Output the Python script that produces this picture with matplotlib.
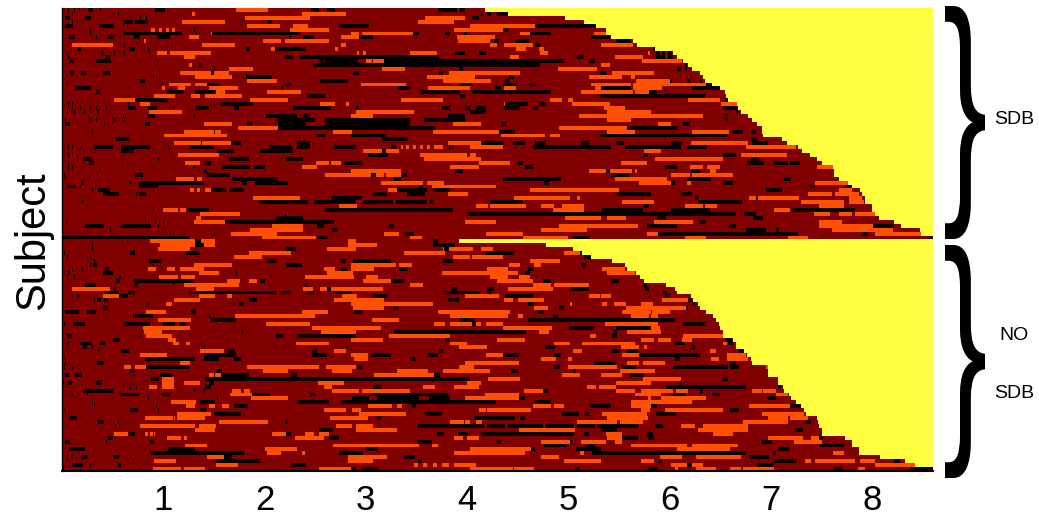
import matplotlib
matplotlib.use('Agg')
import matplotlib.pyplot as plt
import numpy as np
from matplotlib.colors import ListedColormap
from matplotlib.patches import PathPatch
from matplotlib.textpath import TextPath
from matplotlib.font_manager import FontProperties
from matplotlib.transforms import Affine2D

plt.rcParams['font.family'] = ['Liberation Sans', 'DejaVu Sans']

# recording length of each subject, hours (top = SDB, bottom = NO SDB)
row_end = [
    4.18, 4.40, 4.97, 5.15, 5.28, 5.37, 5.37, 5.42, 5.64, 5.68,
    5.86, 6.04, 6.08, 6.14, 6.19, 6.22, 6.30, 6.34, 6.35, 6.42,
    6.50, 6.55, 6.56, 6.58, 6.67, 6.68, 6.70, 6.78, 6.81, 6.87,
    6.91, 6.91, 6.92, 7.11, 7.16, 7.27, 7.31, 7.39, 7.45, 7.51,
    7.61, 7.63, 7.63, 7.68, 7.76, 7.80, 7.88, 7.90, 7.94, 7.94,
    8.00, 8.00, 8.03, 8.07, 8.22, 8.29, 8.48, 8.49, 8.62,
    3.92, 4.79, 5.05, 5.14, 5.23, 5.44, 5.56, 5.59, 5.67, 5.71,
    5.75, 5.97, 6.05, 6.08, 6.21, 6.24, 6.28, 6.30, 6.36, 6.43,
    6.46, 6.49, 6.50, 6.53, 6.53, 6.63, 6.65, 6.65, 6.74, 6.77,
    6.80, 6.81, 6.97, 6.97, 6.97, 7.07, 7.07, 7.12, 7.14, 7.18,
    7.20, 7.25, 7.30, 7.33, 7.35, 7.45, 7.47, 7.48, 7.50, 7.50,
    7.74, 7.80, 7.80, 7.87, 7.87, 8.08, 8.33, 8.43, 8.61,
]

# orange stretches per subject, (start, stop) in hours
orange = [
    [(1.72, 2.04)],
    [(1.29, 1.32), (2.37, 2.80)],
    [(1.81, 2.45), (3.59, 3.98)],
    [(1.19, 1.61), (3.52, 3.87)],
    [(1.83, 2.15), (2.29, 2.43), (4.04, 4.68)],
    [(0.89, 0.92), (0.96, 0.99), (1.03, 1.06), (1.09, 1.12), (2.25, 2.64), (3.87, 4.35)],
    [(1.47, 1.49), (2.86, 2.94), (2.97, 3.47), (4.53, 4.62), (5.25, 5.37)],
    [(1.25, 1.35), (2.75, 2.94), (3.90, 4.28)],
    [(0.81, 0.83), (1.99, 2.17), (2.20, 2.64), (3.91, 4.23)],
    [(0.10, 0.51), (1.39, 1.71), (2.76, 2.80), (4.23, 4.30), (4.37, 4.65), (5.33, 5.64)],
    [(2.07, 2.10), (2.70, 2.73), (4.49, 4.59), (4.71, 4.76)],
    [(0.94, 1.04), (1.07, 1.48), (2.92, 2.94), (2.98, 3.00), (3.44, 3.70), (4.72, 4.80), (5.79, 5.81)],
    [(1.21, 1.32), (4.43, 4.52), (5.46, 5.74), (5.72, 5.74)],
    [(3.00, 3.06), (3.08, 3.18), (5.73, 6.13)],
    [(1.25, 1.29), (5.33, 5.41)],
    [(1.65, 1.89), (3.16, 3.39), (4.90, 5.29)],
    [(1.17, 1.47), (1.50, 1.65), (3.83, 4.53), (5.44, 5.85)],
    [(1.32, 1.68), (3.60, 4.08), (5.21, 5.54), (5.62, 5.66)],
    [(1.83, 2.13), (3.77, 4.24), (5.67, 6.00)],
    [(1.06, 1.28), (1.32, 1.44), (2.95, 3.40), (5.23, 5.62), (5.64, 6.36)],
    [(0.99, 1.02), (1.15, 1.22), (1.45, 1.74), (3.62, 4.03), (4.37, 4.49), (5.27, 5.33), (5.64, 5.93)],
    [(1.52, 1.61), (2.03, 2.36), (5.13, 5.64), (5.66, 5.85)],
    [(0.91, 1.12), (1.28, 1.36), (1.41, 1.78)],
    [(0.52, 0.73), (1.86, 2.24), (3.35, 3.76), (4.82, 4.94), (5.00, 5.05), (6.19, 6.50)],
    [(0.77, 0.87), (2.55, 2.70), (2.81, 2.84), (4.37, 4.38), (5.04, 5.41), (6.51, 6.67)],
    [(5.35, 5.56)],
    [(0.86, 1.19), (2.90, 3.48), (5.39, 5.82)],
    [(2.86, 3.07), (5.11, 6.34)],
    [(5.39, 5.62)],
    [(1.40, 1.68), (3.86, 4.14), (5.89, 6.01)],
    [(1.74, 2.14), (4.91, 5.59)],
    [(1.20, 1.57), (2.68, 2.87), (3.66, 4.32), (5.39, 5.66), (6.23, 6.59)],
    [(1.01, 1.63), (4.34, 4.77), (4.82, 4.92)],
    [],
    [(1.11, 1.67), (3.81, 4.14), (6.21, 6.78)],
    [(3.35, 3.37), (3.40, 3.43), (3.47, 3.50), (3.54, 3.57), (3.61, 3.64), (3.68, 3.76), (4.03, 4.35), (6.76, 7.25)],
    [(2.98, 3.33), (5.75, 5.92)],
    [(1.15, 1.55), (3.54, 4.00), (4.04, 4.10), (6.71, 7.16)],
    [(3.58, 4.14), (5.86, 6.53)],
    [(1.22, 1.37), (2.51, 2.64), (2.66, 2.75), (4.12, 4.43), (5.52, 5.78)],
    [(2.37, 2.52), (3.84, 4.12), (6.20, 6.33), (6.37, 6.50), (7.46, 7.61)],
    [(2.85, 3.35), (5.21, 5.63), (5.66, 5.68), (6.40, 6.46)],
    [(2.60, 2.90), (2.85, 3.18), (3.20, 3.35), (6.01, 6.20), (6.23, 6.63)],
    [(1.13, 1.30), (1.34, 1.39), (5.46, 5.98)],
    [(3.15, 3.57), (3.60, 3.78), (5.70, 6.02), (6.17, 6.21), (7.44, 7.76)],
    [(3.65, 4.29)],
    [(1.27, 1.30), (1.34, 1.37), (1.41, 1.47), (3.22, 3.31), (4.63, 5.50), (7.68, 7.80)],
    [(3.81, 4.01), (7.37, 7.60), (7.64, 7.87)],
    [(1.89, 2.35), (4.47, 5.02), (5.09, 5.12), (6.79, 7.28), (7.77, 7.90)],
    [(5.53, 5.85), (7.30, 7.73), (7.77, 7.92)],
    [(2.74, 2.90), (2.85, 2.91), (4.10, 4.21), (4.23, 4.59), (4.74, 4.86), (4.94, 5.16), (6.15, 6.33), (6.35, 6.47), (7.48, 7.73)],
    [(1.00, 1.15), (1.17, 1.23), (4.85, 5.16), (7.04, 7.19)],
    [(1.36, 1.76), (7.43, 7.59), (7.68, 7.80), (7.83, 8.05)],
    [(1.33, 1.38), (4.97, 5.33), (5.39, 5.57)],
    [(1.30, 1.61), (3.99, 4.29), (5.85, 6.24), (7.48, 7.70)],
    [(2.08, 2.39), (4.91, 5.69), (7.48, 8.01)],
    [(1.86, 2.39), (4.74, 5.19), (7.60, 8.21)],
    [(1.67, 2.13), (3.19, 3.33), (4.19, 4.55), (5.78, 5.89), (8.03, 8.49)],
    [(1.98, 2.51), (3.44, 3.56), (4.55, 5.00), (6.15, 6.36), (7.17, 7.37)],
    [(0.87, 1.51), (2.83, 2.90)],
    [(0.97, 1.51), (2.83, 3.11)],
    [(0.95, 1.27), (2.62, 2.90), (3.77, 4.06), (4.14, 4.26)],
    [(1.85, 2.26), (3.38, 3.79), (4.96, 5.14)],
    [(1.70, 1.98), (3.86, 4.04), (4.05, 4.35)],
    [(4.62, 4.92)],
    [(1.30, 1.68), (2.85, 3.30), (3.33, 3.46), (4.42, 4.53), (4.66, 4.74)],
    [(0.85, 0.93), (1.04, 1.12), (1.17, 1.40), (2.59, 2.70), (2.85, 3.09), (4.20, 4.40), (5.34, 5.56)],
    [(1.35, 1.55), (2.62, 2.88), (3.75, 4.50), (5.39, 5.66)],
    [(0.96, 1.15), (1.18, 1.32), (2.40, 2.89), (3.00, 3.13), (4.23, 4.40), (4.52, 4.63)],
    [(1.64, 1.76), (1.85, 1.93), (2.98, 3.25), (4.30, 4.65)],
    [(1.20, 1.75), (3.44, 3.57), (4.65, 4.83), (4.86, 5.21)],
    [(0.10, 0.48), (1.33, 1.50), (2.39, 2.48), (2.55, 2.90), (2.85, 3.17), (4.40, 4.85)],
    [],
    [(0.41, 0.56), (1.35, 1.51), (1.64, 1.69), (2.77, 2.92), (3.99, 4.32), (5.20, 5.31), (5.33, 5.42)],
    [(1.11, 1.36), (2.69, 3.18), (4.37, 4.45), (4.50, 4.76), (5.93, 6.19)],
    [(1.03, 1.09), (2.85, 3.66), (5.02, 5.04), (5.34, 5.39), (5.45, 5.57), (5.72, 5.84)],
    [(2.88, 3.18), (4.66, 4.80), (5.57, 6.16)],
    [(0.84, 1.03), (2.37, 2.63), (3.72, 4.43), (5.53, 5.82), (5.72, 5.81), (5.83, 6.00)],
    [(1.71, 2.50), (3.84, 4.40), (4.50, 4.55), (5.62, 5.80), (5.82, 5.89)],
    [(0.95, 1.28), (3.06, 3.33)],
    [(2.02, 2.45), (3.68, 3.79), (3.84, 4.14), (4.19, 4.36), (5.36, 5.89)],
    [(0.80, 1.27), (2.47, 3.15), (4.35, 4.84), (5.82, 5.90)],
    [(0.81, 0.99), (2.56, 2.90), (4.71, 4.81), (5.58, 5.92)],
    [(0.84, 1.09), (3.24, 3.84), (5.22, 5.28), (6.14, 6.53)],
    [(1.05, 1.13), (2.85, 3.17), (4.30, 4.58), (5.72, 5.85), (5.89, 6.02), (6.13, 6.23)],
    [(1.10, 1.16), (1.23, 1.27), (2.31, 2.64), (3.84, 4.00), (4.86, 5.02), (5.14, 5.66), (6.53, 6.57)],
    [(3.92, 4.20), (5.52, 5.70), (5.75, 5.78)],
    [(1.36, 1.60), (2.69, 2.80), (5.05, 5.14), (6.40, 6.46)],
    [(0.78, 1.04), (2.85, 3.02), (4.19, 4.35), (5.54, 5.70), (6.57, 6.76)],
    [(2.89, 3.02), (4.73, 4.88), (5.00, 5.04), (6.41, 6.49), (6.57, 6.78)],
    [(1.17, 1.27), (3.99, 4.52), (5.59, 5.70), (5.74, 5.96)],
    [(0.62, 0.69), (0.73, 0.83), (1.83, 2.54), (2.61, 2.90), (3.92, 4.07), (5.00, 5.49), (6.95, 6.97)],
    [(1.99, 2.24), (2.67, 2.87), (3.31, 3.62), (3.76, 4.23), (5.51, 5.86)],
    [(1.45, 1.57), (3.09, 3.68), (4.94, 5.12), (5.33, 5.54)],
    [(0.99, 1.11), (4.21, 4.53), (5.74, 6.12)],
    [(0.99, 1.11), (1.21, 1.36), (2.53, 2.79), (4.00, 4.14), (5.47, 5.82), (5.72, 5.82)],
    [(0.86, 0.94), (0.99, 1.11), (2.59, 2.67), (3.57, 3.69), (3.88, 4.12), (5.19, 5.28), (5.30, 5.47)],
    [(1.69, 1.77), (1.80, 1.86), (2.67, 2.94), (2.96, 3.44), (4.56, 4.75), (5.47, 5.66), (5.72, 5.95), (5.96, 6.04), (6.06, 6.19), (6.82, 6.91), (6.93, 7.05)],
    [(1.66, 1.88), (4.18, 4.52), (5.66, 5.79), (5.79, 5.92), (7.05, 7.17)],
    [(1.87, 2.24), (3.99, 4.54), (5.79, 5.82), (5.92, 6.36)],
    [(1.08, 1.33), (5.62, 6.23)],
    [(1.23, 1.32), (1.45, 1.51), (1.59, 1.65), (3.02, 3.26), (3.31, 3.36), (4.65, 4.83), (4.86, 4.96), (5.62, 5.82), (6.79, 7.19)],
    [(2.59, 2.80), (2.87, 2.95), (4.12, 4.19), (4.20, 4.64), (5.72, 5.81), (5.95, 6.53)],
    [(1.14, 1.47), (2.94, 3.40), (5.34, 5.78), (5.72, 5.78), (6.91, 7.33)],
    [(0.82, 1.12), (1.14, 1.42), (2.65, 3.03), (5.39, 5.79), (5.72, 5.79), (6.97, 7.17), (7.19, 7.37)],
    [(1.55, 2.04), (3.84, 3.97), (3.99, 4.04), (4.10, 4.15), (5.09, 5.49), (5.51, 5.74), (6.73, 7.17)],
    [(0.78, 1.32), (1.35, 1.53), (2.71, 2.87), (2.90, 3.08), (6.12, 6.25), (6.34, 6.78)],
    [(1.32, 1.51), (2.90, 3.31), (4.51, 5.07), (6.28, 6.78)],
    [(0.52, 0.65), (0.82, 0.85), (0.87, 0.92), (2.08, 2.21), (2.40, 2.49), (2.54, 2.64), (5.37, 5.54), (6.43, 6.63)],
    [(1.04, 1.18), (1.20, 1.24), (2.30, 2.59), (3.88, 3.96), (4.00, 4.12), (5.39, 5.54), (6.97, 7.32), (7.40, 7.48)],
    [(4.73, 5.02), (5.13, 5.37), (5.46, 5.54), (7.23, 7.50)],
    [(1.22, 1.44), (2.68, 2.90), (2.88, 3.53), (3.65, 3.72), (5.62, 6.18), (6.22, 6.68)],
    [(2.00, 2.33), (4.04, 4.64), (6.08, 6.60)],
    [(2.03, 2.17), (2.37, 2.40), (3.87, 4.58), (5.12, 5.16), (7.61, 7.72)],
    [(1.44, 1.60), (2.83, 3.21), (4.73, 4.91), (5.91, 6.13), (6.26, 6.71)],
    [(0.91, 1.13), (2.83, 2.90), (2.90, 3.08), (4.96, 5.33), (5.72, 5.85), (7.34, 7.40), (7.44, 7.84), (7.88, 8.03)],
    [(1.53, 1.74), (3.48, 3.52), (3.57, 3.61), (3.66, 3.70), (3.75, 3.82), (3.87, 4.10), (6.02, 6.18), (6.23, 6.34), (8.03, 8.43)],
    [(0.90, 1.18), (1.20, 1.42), (2.54, 2.85), (4.04, 4.45), (4.47, 4.66), (6.05, 6.09), (6.26, 6.46), (6.60, 6.70), (6.73, 7.04), (7.86, 7.93)],
]

# black stretches per subject, (start, stop) in hours
black = [
    [(0.26, 0.31), (0.92, 1.02), (2.46, 2.54), (2.62, 2.70), (3.71, 3.90), (3.93, 3.99)],
    [(4.14, 4.16), (4.20, 4.24), (4.30, 4.40)],
    [(0.04, 0.09), (0.23, 0.29), (4.05, 4.12)],
    [(0.62, 0.70), (0.72, 0.85), (2.04, 2.08)],
    [(0.03, 0.11), (0.38, 0.52), (2.74, 3.04), (4.69, 5.28)],
    [(4.37, 4.41)],
    [(0.62, 1.19), (1.49, 2.35), (3.47, 3.53), (3.79, 3.84), (3.97, 4.00), (4.63, 4.83)],
    [(0.07, 0.13), (0.46, 0.52), (0.71, 0.78), (0.94, 1.07), (2.39, 2.49), (2.94, 3.08), (5.23, 5.41)],
    [(4.27, 4.32), (4.49, 4.61), (5.47, 5.62)],
    [(4.67, 4.72)],
    [(0.15, 0.19), (0.66, 0.73), (1.82, 1.86), (2.10, 2.41), (5.84, 5.86)],
    [(0.39, 0.42), (3.89, 3.99), (4.12, 4.19), (5.87, 5.90), (5.93, 5.96), (5.99, 6.03)],
    [(0.44, 0.48), (2.20, 2.29), (2.35, 3.73), (5.09, 5.16), (5.87, 5.95), (5.99, 6.04)],
    [(0.08, 0.12), (0.34, 0.48), (2.54, 2.59), (2.60, 2.93), (3.19, 4.96), (5.20, 5.26)],
    [(1.35, 1.39), (2.48, 4.72), (6.15, 6.18)],
    [(3.92, 3.96), (6.08, 6.12), (6.15, 6.17)],
    [(0.08, 0.12), (0.19, 0.24), (0.40, 0.48), (1.47, 1.50), (2.88, 2.94), (3.73, 3.77), (5.31, 5.38)],
    [(1.82, 2.08), (4.08, 4.09), (4.42, 4.47), (6.21, 6.23)],
    [(0.78, 0.82), (2.55, 2.83), (4.38, 4.42), (6.00, 6.03), (6.18, 6.20), (6.30, 6.32)],
    [(1.44, 1.56), (2.20, 2.26), (3.94, 4.05), (4.36, 4.50), (4.63, 4.69), (6.36, 6.42)],
    [(0.13, 0.29), (3.32, 3.44), (4.28, 4.34), (5.33, 5.62), (6.23, 6.50)],
    [(0.34, 0.38), (1.04, 1.20), (1.31, 1.52), (3.54, 3.94), (4.05, 4.83), (5.80, 5.88)],
    [(2.42, 2.60), (3.94, 3.99), (5.32, 6.35)],
    [(0.74, 1.05), (6.55, 6.58)],
    [(1.57, 1.89), (4.38, 4.60), (4.71, 4.79)],
    [(0.65, 0.74), (0.85, 0.94), (1.33, 1.45), (1.70, 1.75), (2.29, 2.66), (2.90, 2.94), (3.75, 3.84), (3.98, 4.04), (4.10, 4.19), (4.37, 4.53), (4.65, 4.70), (6.53, 6.68)],
    [(4.04, 4.19), (6.65, 6.68)],
    [(0.85, 0.92), (2.02, 2.32), (2.38, 2.45), (3.81, 3.99), (6.55, 6.57)],
    [(0.27, 0.30), (0.50, 0.54), (2.13, 2.50), (2.60, 3.44), (3.58, 3.99), (6.56, 6.58)],
    [(0.03, 0.09), (0.82, 0.87), (1.83, 1.88), (2.14, 2.41), (2.60, 3.44), (4.34, 4.39), (6.14, 6.20)],
    [(2.14, 3.69), (5.59, 6.09)],
    [(4.32, 4.48), (6.63, 6.73), (6.80, 6.85)],
    [(2.52, 2.60), (2.85, 3.20), (5.31, 6.58)],
    [(0.54, 0.68), (3.16, 3.42), (6.80, 6.86)],
    [(1.67, 1.77), (2.32, 2.45), (4.15, 4.37), (4.45, 4.58), (4.68, 4.79), (5.13, 5.21), (5.47, 5.55), (6.02, 6.13), (6.81, 6.98)],
    [(0.32, 0.51), (0.59, 0.87), (1.27, 1.50), (2.06, 2.27), (2.32, 2.45), (2.69, 2.90), (3.25, 3.30), (3.83, 3.87), (4.65, 5.42), (5.56, 6.12), (6.17, 6.37)],
    [(0.59, 0.71), (1.54, 1.70), (1.96, 2.29), (3.16, 3.20)],
    [(3.02, 3.22), (5.75, 5.79), (6.53, 6.66)],
    [(0.21, 0.30), (1.65, 1.85), (2.21, 2.39), (6.80, 6.89)],
    [(0.27, 0.32), (1.41, 1.47), (2.79, 2.96), (4.50, 4.55), (6.77, 6.94), (7.04, 7.17), (7.19, 7.29)],
    [(1.58, 1.86), (1.90, 2.00), (4.57, 4.65), (5.96, 6.08)],
    [(1.40, 1.44), (3.89, 3.96), (5.38, 5.41), (6.23, 6.30)],
    [(0.72, 0.80), (1.44, 1.66), (3.05, 3.10), (3.36, 3.41), (5.42, 5.60)],
    [(1.69, 2.14), (3.28, 3.35), (4.35, 4.93), (6.18, 6.41), (7.13, 7.20)],
    [(0.76, 1.40), (1.78, 1.83), (1.91, 2.24), (4.76, 4.81), (6.02, 6.05), (6.53, 6.63)],
    [(0.05, 0.14), (0.76, 0.95), (3.53, 3.57), (7.39, 7.44), (7.74, 7.80)],
    [(0.36, 0.48), (1.48, 1.62), (1.66, 1.80), (3.31, 3.61), (3.66, 3.84), (6.95, 7.11)],
    [(0.41, 0.57), (0.76, 0.84), (3.08, 3.21), (3.41, 3.59), (5.48, 5.82), (6.12, 6.23)],
    [(2.67, 2.97), (6.25, 6.28), (6.85, 6.88)],
    [(1.95, 2.43), (2.49, 2.90), (2.98, 3.27), (3.30, 3.61), (3.64, 3.68), (4.23, 4.55), (6.29, 6.72)],
    [(5.75, 5.80), (5.76, 5.80)],
    [(1.24, 1.45), (2.60, 3.86), (5.34, 5.74), (6.02, 6.40), (7.20, 7.83)],
    [(4.01, 6.66), (6.74, 6.85)],
    [(2.12, 2.38), (5.88, 5.97), (6.83, 6.93)],
    [(1.61, 2.69), (6.30, 6.36)],
    [(0.23, 0.42), (0.59, 0.88), (2.52, 2.59), (3.23, 3.28), (5.78, 6.08), (6.59, 6.66), (8.01, 8.22)],
    [(2.67, 2.73), (6.76, 6.95), (7.05, 7.09)],
    [(3.39, 3.48), (5.89, 7.27), (7.90, 7.96)],
    [(0.00, 1.25), (2.52, 2.63), (5.05, 5.20), (8.56, 8.62)],
    [(1.32, 1.38), (3.66, 3.72)],
    [(1.32, 1.40), (3.66, 3.89)],
    [(2.22, 2.31), (3.78, 3.82)],
    [(0.67, 0.72), (1.23, 1.36), (4.19, 4.47), (5.12, 5.14)],
    [(5.16, 5.23)],
    [(0.86, 0.99), (2.04, 2.12), (2.75, 2.80), (2.88, 3.25), (3.77, 3.86)],
    [(0.31, 0.35), (2.22, 2.37), (5.14, 5.18)],
    [(0.43, 0.47), (2.75, 2.82), (3.33, 3.42), (4.60, 4.66)],
    [(0.41, 0.50), (0.06, 0.08), (4.58, 4.62)],
    [(0.56, 0.59)],
    [(0.54, 0.58), (0.71, 1.30), (1.96, 2.00), (3.25, 3.38), (4.75, 4.83), (5.42, 5.50)],
    [(0.23, 0.34), (0.72, 0.75), (2.40, 2.44), (5.74, 5.78)],
    [(0.50, 0.54), (2.62, 2.66), (3.85, 3.90), (4.20, 4.27), (5.03, 5.21), (5.76, 5.80)],
    [(0.43, 0.57), (0.65, 0.73), (1.26, 1.30), (1.32, 2.12), (2.17, 2.26), (2.42, 2.49), (2.68, 2.87), (3.76, 4.12), (4.20, 4.24), (5.94, 5.98)],
    [(0.57, 0.65), (3.08, 3.21), (4.38, 4.65), (5.96, 6.00)],
    [(0.35, 0.39), (0.42, 0.45), (1.85, 1.93), (3.81, 3.92), (6.19, 6.23)],
    [(1.75, 1.79), (4.60, 4.66), (6.22, 6.25)],
    [(0.41, 0.45), (3.27, 3.32), (4.91, 4.96), (6.16, 6.19)],
    [(0.03, 0.17), (0.25, 0.34), (1.28, 1.33), (2.89, 2.97), (4.70, 4.75)],
    [(0.72, 0.90), (1.45, 1.48), (4.85, 4.90)],
    [(1.47, 1.72), (3.93, 4.07), (4.60, 6.05)],
    [(0.11, 0.23), (0.61, 0.87), (1.00, 1.12), (1.17, 1.23), (4.05, 4.09), (6.14, 6.36)],
    [(5.01, 5.25), (5.47, 5.82)],
    [(3.28, 4.59), (5.45, 5.49)],
    [(0.05, 0.10), (2.11, 2.19), (2.34, 2.88), (2.85, 2.90), (5.44, 5.48)],
    [(0.50, 0.58), (3.79, 3.82), (6.55, 6.62)],
    [(0.18, 0.30), (0.38, 0.43), (6.05, 6.15), (6.58, 6.63)],
    [(0.21, 0.25), (4.77, 4.87), (6.22, 6.25)],
    [(0.59, 0.67), (1.64, 1.71), (2.47, 2.52), (3.73, 3.76), (5.44, 5.51), (5.59, 5.69), (6.69, 6.74)],
    [(1.40, 1.72), (2.47, 2.62), (3.05, 3.25), (3.62, 3.71), (4.36, 4.52), (4.86, 4.93), (5.71, 6.30)],
    [(0.82, 1.31), (1.40, 1.55), (1.70, 1.78), (3.45, 3.49), (6.05, 6.10)],
    [(0.35, 0.42), (5.25, 5.47), (6.60, 6.65)],
    [(0.84, 1.25), (2.92, 2.97), (4.86, 4.92), (5.54, 5.67), (6.04, 6.58), (6.60, 6.69)],
    [(0.68, 0.71), (1.52, 1.58), (4.44, 4.50), (5.05, 5.08)],
    [(0.04, 0.07), (0.13, 0.20), (0.97, 1.09), (1.57, 1.85), (2.26, 2.32), (3.68, 3.74), (5.61, 5.75), (5.72, 5.75)],
    [(0.89, 0.96), (1.42, 4.04), (6.53, 6.58)],
    [(0.06, 0.10), (0.34, 0.39), (1.45, 1.50), (6.10, 6.13)],
    [(1.42, 1.47), (3.08, 3.16), (5.97, 6.70), (6.71, 6.76), (7.07, 7.10)],
    [(0.21, 0.52), (4.75, 4.80), (6.30, 6.33)],
    [(0.58, 0.76), (0.99, 1.07), (1.88, 2.06), (2.45, 2.50), (3.05, 3.81), (6.04, 6.15), (6.42, 6.50)],
    [(2.87, 3.04), (3.11, 3.53), (3.63, 3.84), (4.51, 4.57), (6.97, 7.05)],
    [(1.36, 1.51), (2.32, 2.64), (2.75, 4.29), (4.68, 4.83), (7.25, 7.30)],
    [(1.70, 1.84), (3.46, 3.50), (5.22, 5.42), (5.82, 5.88), (7.19, 7.30)],
    [(0.67, 0.75), (1.36, 1.43), (6.60, 6.69)],
    [(1.50, 1.77), (3.59, 3.75), (4.94, 5.11), (5.17, 5.21), (5.87, 6.07)],
    [(0.08, 0.15), (3.11, 3.15), (4.07, 4.48), (4.53, 4.57)],
    [(0.36, 0.42), (2.20, 2.24), (7.34, 7.40)],
    [(3.52, 4.17), (4.20, 4.38), (4.41, 4.75), (4.78, 5.06), (5.09, 5.26), (5.29, 5.69), (5.86, 5.94)],
    [(2.54, 2.68), (5.33, 5.49), (7.24, 7.32)],
    [(0.66, 0.72), (2.22, 2.26), (3.70, 3.78), (3.91, 4.01), (4.14, 5.06), (5.15, 5.21), (5.78, 5.84)],
    [(0.46, 0.50), (2.64, 2.74), (5.54, 5.69), (5.79, 5.85), (7.48, 7.52)],
    [(0.04, 0.08), (0.87, 0.91), (3.52, 3.65), (4.30, 4.34), (5.02, 5.05), (6.91, 7.01)],
    [(4.76, 4.99), (5.17, 5.26), (7.49, 7.62), (7.63, 7.73)],
    [(0.08, 0.23), (1.05, 1.32), (3.00, 3.12), (4.64, 4.68), (5.08, 5.33), (7.07, 7.18)],
    [(0.89, 1.80), (2.74, 2.98), (5.24, 6.76), (7.02, 7.05)],
    [(0.19, 0.26), (0.52, 0.56), (1.61, 1.68), (3.38, 3.49), (6.79, 6.99)],
    [(1.52, 1.96), (3.52, 3.56), (5.89, 5.93), (7.04, 7.25), (8.22, 8.28)],
    [(0.12, 0.21), (0.55, 0.59), (2.26, 2.41), (6.18, 6.23), (6.86, 7.02)],
    [(0.00, 0.02), (2.85, 2.90), (2.97, 3.13), (5.07, 5.11), (5.79, 5.89), (7.63, 7.70), (8.38, 8.61)],
]

# single short black epochs scattered through the night, (subject, hour)
specks = [
    (0, 0.06), (0, 0.12), (0, 0.17), (0, 0.38), (1, 0.10), (1, 0.55), (1, 0.98), (2, 0.19), (2, 0.50), (2, 0.78), (2, 0.84),
    (3, 0.03), (3, 0.10), (3, 0.15), (3, 0.20), (3, 1.78), (3, 2.66), (4, 0.60), (4, 1.68), (5, 0.28), (5, 1.30), (5, 1.58),
    (6, 0.28), (6, 1.33), (7, 0.34), (7, 0.58), (7, 2.25), (8, 0.80), (8, 0.89), (9, 0.62), (9, 1.12), (10, 0.85), (11, 0.19),
    (11, 0.52), (11, 0.62), (12, 0.06), (12, 0.92), (13, 0.48), (15, 0.96), (15, 1.50), (16, 1.82), (17, 0.90), (18, 0.03),
    (19, 0.05), (19, 1.86), (20, 0.66), (20, 2.18), (21, 0.08), (22, 0.60), (23, 1.48), (24, 0.06), (24, 0.10), (24, 0.14),
    (24, 0.65), (24, 1.50), (25, 0.03), (25, 0.10), (25, 0.18), (25, 0.28), (25, 0.34), (25, 0.44), (25, 0.50), (25, 1.10),
    (26, 0.05), (26, 0.12), (26, 0.22), (26, 0.36), (27, 0.60), (27, 1.30), (28, 0.04), (28, 0.34), (28, 0.62), (29, 0.42),
    (31, 0.30), (31, 1.50), (32, 0.45), (34, 0.03), (34, 0.08), (34, 0.86), (34, 1.38), (35, 0.06), (35, 0.10), (35, 1.05),
    (36, 0.25), (36, 1.06), (37, 0.06), (38, 0.15), (38, 0.95), (39, 0.06), (39, 0.60), (40, 0.06), (40, 0.10), (40, 1.30),
    (41, 1.12), (42, 0.02), (42, 0.35), (43, 0.04), (44, 0.03), (44, 0.20), (44, 0.33), (44, 0.50), (44, 0.68), (45, 0.18),
    (46, 0.30), (46, 0.90), (47, 0.74), (49, 0.20), (50, 0.08), (50, 0.25), (51, 0.90), (52, 0.56), (52, 0.72), (52, 2.20),
    (53, 0.82), (54, 0.05), (54, 0.92), (54, 1.00), (55, 0.50), (55, 0.95), (56, 0.48), (56, 1.02), (57, 1.10), (57, 1.50),
    (60, 0.30), (60, 0.60), (61, 0.30), (62, 0.02), (62, 1.52), (63, 0.05), (63, 0.28), (64, 0.32), (65, 0.28), (65, 0.90),
    (66, 0.10), (66, 0.20), (67, 0.08), (67, 1.72), (68, 0.05), (68, 0.12), (69, 0.80), (70, 1.10), (71, 0.70), (73, 0.10),
    (73, 0.16), (74, 0.32), (74, 0.70), (75, 0.85), (75, 1.70), (76, 0.50), (77, 1.58), (78, 0.70), (79, 1.58), (80, 0.02),
    (81, 1.55), (82, 1.78), (83, 0.78), (84, 1.42), (85, 0.06), (85, 1.38), (86, 0.30), (86, 1.40), (87, 0.36), (88, 1.25),
    (89, 0.04), (90, 0.04), (91, 0.02), (91, 0.10), (92, 0.50), (93, 1.50), (94, 0.40), (95, 0.01), (96, 0.60), (96, 0.68),
    (96, 0.74), (97, 1.30), (97, 1.40), (98, 0.10), (98, 0.25), (99, 0.85), (99, 1.54), (100, 0.30), (100, 0.90), (101, 0.32),
    (102, 0.04), (102, 0.56), (102, 0.95), (103, 0.08), (104, 0.50), (104, 1.10), (105, 0.25), (105, 0.55), (106, 0.53),
    (107, 0.50), (108, 0.90), (108, 1.00), (109, 0.50), (110, 0.40), (110, 0.44), (111, 1.68), (112, 0.07), (112, 0.82),
    (113, 2.00), (114, 0.05), (114, 0.10), (114, 1.60), (115, 0.70), (116, 0.10), (116, 0.20), (116, 0.28), (117, 0.76),
]

tick_hours = [1, 2, 3, 4, 5, 6, 7, 8]
tick_labels = ['1', '2', '3', '4', '5', '6', '7', '8']
epochs_per_hour = 120
n_rows = len(row_end)
total_hours = 8.60
n_cols = int(total_hours * epochs_per_hour)

# 0 black, 1 dark red, 2 orange, 3 yellow
grid = np.full((n_rows, n_cols), 3)
for i in range(n_rows):
    stop = int(row_end[i] * epochs_per_hour)
    grid[i, :stop] = 1
    for a, b in orange[i]:
        grid[i, int(a * epochs_per_hour):min(int(b * epochs_per_hour), stop)] = 2
    for a, b in black[i]:
        grid[i, int(a * epochs_per_hour):min(int(b * epochs_per_hour), stop)] = 0
for i, h in specks:
    grid[i, int(h * epochs_per_hour)] = 0

cmap = ListedColormap(['#050000', '#800000', '#ff4f00', '#ffff40'])

W, H = 1039, 517
fig = plt.figure(figsize=(W / 100, H / 100), dpi=100)
ax = fig.add_axes([62 / W, 1 - 471 / H, (933 - 62) / W, (471 - 8) / H])
ax.imshow(grid, cmap=cmap, vmin=0, vmax=3, aspect='auto', interpolation='nearest',
          extent=[0, total_hours, n_rows, 0])
ax.set_yticks([])
ax.set_xticks(tick_hours)
ax.set_xticklabels(tick_labels, fontsize=25)
ax.tick_params(axis='x', length=0, pad=9)
ax.spines['top'].set_visible(False)
ax.spines['right'].set_visible(False)
ax.spines['left'].set_linewidth(1.0)
ax.spines['bottom'].set_linewidth(1.5)
fig.text(33 / W, 1 - 241 / H, 'Subject', rotation=90, fontsize=30, ha='center', va='center')


def brace(x0, x1, y0, y1):
    # big stretched curly bracket, positions in image pixels
    tp = TextPath((0, 0), '}', size=100, prop=FontProperties(family='Liberation Sans'))
    bb = tp.get_extents()
    tr = (Affine2D().translate(-bb.x0, -bb.y0).scale((x1 - x0) / bb.width, (y1 - y0) / bb.height)
          .translate(x0, H - y1).scale(1 / W, 1 / H))
    fig.add_artist(PathPatch(tp, transform=tr + fig.transFigure, fc='black', ec='none'))


brace(945, 985, 6, 239)
brace(945, 985, 245, 478)

fig.text(1014 / W, 1 - 120 / H, 'SDB', fontsize=14, ha='center', va='center')
fig.text(1014 / W, 1 - 335 / H, 'NO', fontsize=14, ha='center', va='center')
fig.text(1014 / W, 1 - 393 / H, 'SDB', fontsize=14, ha='center', va='center')

fig.savefig('out.png', dpi=100)
